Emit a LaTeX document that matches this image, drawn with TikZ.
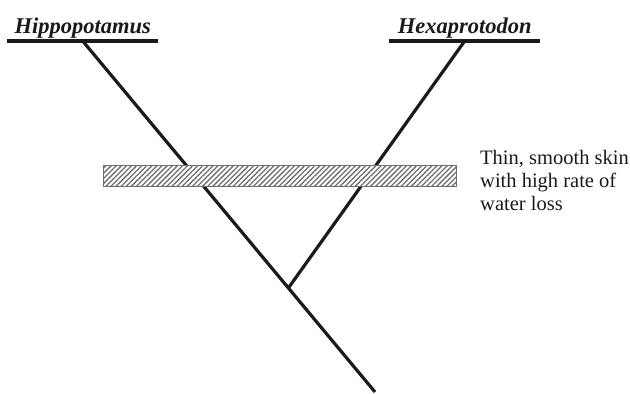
\documentclass[tikz,border=0pt]{standalone}
\usepackage{fontspec}
\setmainfont{Liberation Serif}
\usepackage{xcolor}
\usepackage{tikz}
\usetikzlibrary{calc,patterns.meta}
\definecolor{ink}{HTML}{1A1A1A}
\definecolor{hatch}{HTML}{6E6E6E}

\begin{document}
\begin{tikzpicture}[
  x=1pt, y=-1pt,
  taxon/.style={font=\fontsize{22.5}{25}\selectfont\bfseries\itshape,
    text=ink, inner sep=0pt, minimum width=151pt, minimum height=0pt,
    anchor=south west, text depth=7pt},
  branch/.style={draw=ink, line width=3.2pt},
  tipline/.style={draw=ink, line width=3.4pt},
  trait/.style={draw=hatch, line width=0.9pt, preaction={fill=white},
    pattern={Lines[angle=45, distance=3.6pt, line width=1.3pt]},
    pattern color=hatch, minimum width=353pt, minimum height=21pt,
    inner sep=0pt},
  note/.style={font=\fontsize{20.5}{22.8}\selectfont, text=ink,
    align=left, inner sep=0pt, anchor=north west},
]
  \useasboundingbox (0,0) rectangle (630,394);

  % taxa
  \node[taxon] (hippo) at (7,41) {Hippopotamus};
  \node[taxon] (hexa) at (389,41) {Hexaprotodon};
  \draw[tipline] (hippo.south west) -- (hippo.south east);
  \draw[tipline] (hexa.south west) -- (hexa.south east);

  % tree
  \coordinate (root) at (375,392);
  \coordinate (fork) at ($(hippo.south)!0.7037!(root)$);
  \draw[branch] (hippo.south) -- (root);
  \draw[branch] (hexa.south) -- (fork);

  % shared trait
  \node[trait] (skin) at (279.5,175.5) {};
  \node[note] (skinnote) at (480,150)
    {Thin, smooth skin\\with high rate of\\water loss};
\end{tikzpicture}
\end{document}
